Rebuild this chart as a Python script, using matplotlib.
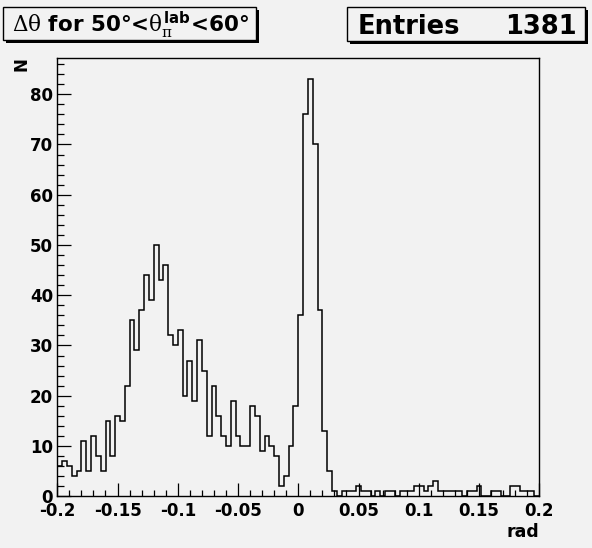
import numpy as np
import matplotlib
matplotlib.use("Agg")
import matplotlib.pyplot as plt
from matplotlib.patches import Rectangle
from matplotlib.ticker import MultipleLocator, FixedLocator, FixedFormatter

# ---------------- data ----------------
x_min, x_max, n_bins = -0.2, 0.2, 100
counts = [
    6, 7, 6, 4, 5, 11, 5, 12, 8, 5,
    15, 8, 16, 15, 22, 35, 29, 37, 44, 39,
    50, 43, 46, 32, 30, 33, 20, 27, 19, 31,
    25, 12, 22, 16, 12, 10, 19, 12, 10, 10,
    18, 16, 9, 12, 10, 8, 2, 4, 10, 18,
    36, 76, 83, 70, 37, 13, 5, 1, 0, 1,
    1, 1, 2, 1, 1, 0, 1, 0, 1, 1,
    0, 1, 1, 1, 2, 2, 1, 2, 3, 1,
    1, 1, 1, 1, 0, 1, 1, 2, 0, 0,
    1, 1, 0, 0, 2, 2, 1, 1, 1, 0,
]
entries = 1381
xtick_values = [-0.2, -0.15, -0.1, -0.05, 0.0, 0.05, 0.1, 0.15, 0.2]
xtick_labels = ["-0.2", "-0.15", "-0.1", "-0.05", "0", "0.05", "0.1", "0.15", "0.2"]
ytick_values = [0, 10, 20, 30, 40, 50, 60, 70, 80]
ytick_labels = ["0", "10", "20", "30", "40", "50", "60", "70", "80"]
title_text = r"$\Delta\theta$ for 50°<$\theta_{\pi}^{\mathbf{lab}}$<60°"
xlabel_text = "rad"
ylabel_text = "N"

# ---------------- style ----------------
plt.rcParams["font.family"] = ["DejaVu Sans"]
plt.rcParams["mathtext.fontset"] = "custom"
plt.rcParams["mathtext.rm"] = "DejaVu Serif:regular"
plt.rcParams["mathtext.it"] = "DejaVu Serif:regular"
plt.rcParams["mathtext.bf"] = "DejaVu Sans:bold"

W, H = 592, 548
bg = "#f2f2f2"

fig = plt.figure(figsize=(W / 100, H / 100), dpi=100, facecolor=bg)

ax_l, ax_r, ax_t, ax_b = 57.3, 539.3, 58.3, 496.2
ax = fig.add_axes([ax_l / W, 1 - ax_b / H, (ax_r - ax_l) / W, (ax_b - ax_t) / H],
                  facecolor=bg)

edges = np.linspace(x_min, x_max, n_bins + 1)
ax.stairs(counts, edges, baseline=0, color="black", linewidth=1.1)

ax.set_xlim(x_min, x_max)
ax.set_ylim(0, max(counts) * 1.05)

ax.xaxis.set_major_locator(FixedLocator(xtick_values))
ax.xaxis.set_major_formatter(FixedFormatter(xtick_labels))
ax.xaxis.set_minor_locator(MultipleLocator(0.01))
ax.yaxis.set_major_locator(FixedLocator(ytick_values))
ax.yaxis.set_major_formatter(FixedFormatter(ytick_labels))
ax.yaxis.set_minor_locator(MultipleLocator(2))

ax.tick_params(axis="both", which="both", direction="in", colors="black",
               top=False, right=False, width=0.9)
ax.tick_params(axis="x", which="major", length=9.5, labelsize=12, pad=4.5)
ax.tick_params(axis="x", which="minor", length=4.5)
ax.tick_params(axis="y", which="major", length=10, labelsize=12, pad=3)
ax.tick_params(axis="y", which="minor", length=5)
for lab in ax.get_xticklabels() + ax.get_yticklabels():
    lab.set_fontweight("bold")
for sp in ax.spines.values():
    sp.set_linewidth(1.0)
    sp.set_color("black")

# axis labels
fig.text(21.5 / W, 1 - 64 / H, ylabel_text, rotation=90, ha="center", va="center",
         fontsize=12, fontweight="bold")
fig.text(539 / W, 1 - 532 / H, xlabel_text, ha="right", va="center",
         fontsize=12.5, fontweight="bold")


def shadow_box(x0, y0, x1, y1, off=3):
    fig.patches.append(Rectangle((x0 / W + off / W, 1 - y1 / H - off / H),
                                 (x1 - x0) / W, (y1 - y0) / H,
                                 transform=fig.transFigure, facecolor="black",
                                 edgecolor="black", linewidth=0, zorder=1))
    fig.patches.append(Rectangle((x0 / W, 1 - y1 / H), (x1 - x0) / W, (y1 - y0) / H,
                                 transform=fig.transFigure, facecolor=bg,
                                 edgecolor="black", linewidth=1.0, zorder=2))


# title box
shadow_box(3, 7, 256, 40)
fig.text(130 / W, 1 - 25 / H, title_text, ha="center", va="center",
         fontsize=15.5, fontweight="bold", zorder=3)

# stats box
shadow_box(347, 7, 585, 41)
fig.text(358 / W, 1 - 27 / H, "Entries", ha="left", va="center",
         fontsize=18.5, fontweight="bold", zorder=3)
fig.text(577 / W, 1 - 27 / H, f"{entries}", ha="right", va="center",
         fontsize=18.5, fontweight="bold", zorder=3)

fig.savefig("out.png", dpi=100, facecolor=bg)
